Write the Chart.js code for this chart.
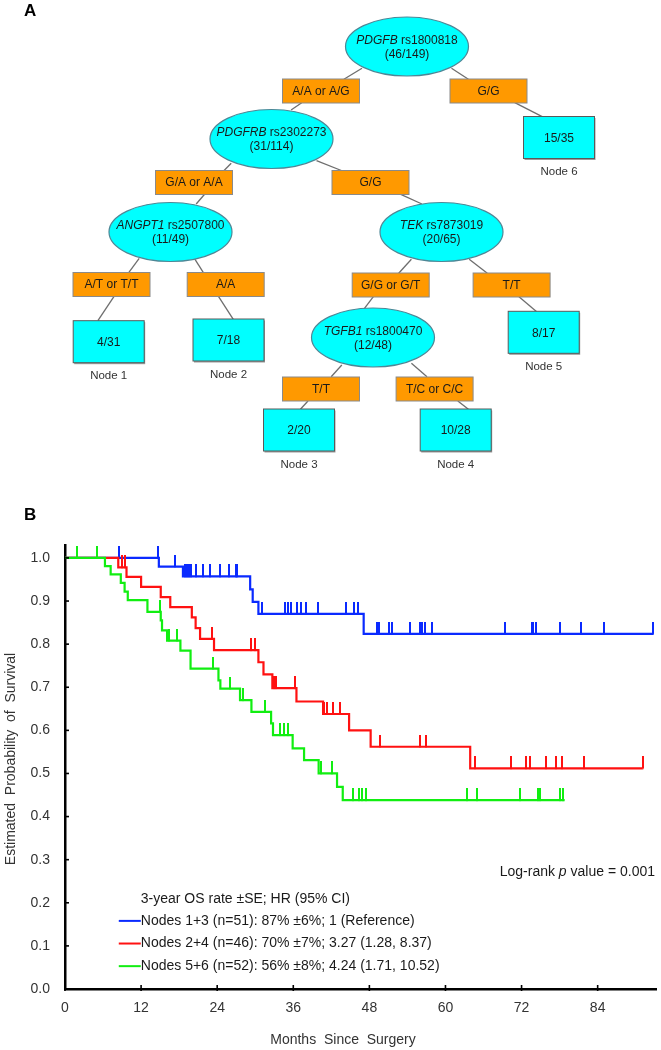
<!DOCTYPE html>
<html>
<head>
<meta charset="utf-8">
<script src="https://cdn.jsdelivr.net/npm/chart.js@4.4.1/dist/chart.umd.min.js"></script>
<style>
  body { margin: 0; background: #fff; }
  canvas { display: block; }
</style>
</head>
<body>
<canvas id="treeChart" width="661" height="495"></canvas>
<canvas id="kmChart" width="661" height="555"></canvas>
<script>
// ---------- panel A: survival tree ----------
const splitGenes = ['PDGFB', 'PDGFRB', 'ANGPT1', 'TEK', 'TGFB1'];
const splitSnps = ['rs1800818', 'rs2302273', 'rs2507800', 'rs7873019', 'rs1800470'];
const splitCounts = ['46/149', '31/114', '11/49', '20/65', '12/48'];
const branchLabels = ['A/A or A/G', 'G/G', 'G/A or A/A', 'G/G', 'A/T or T/T', 'A/A',
                      'G/G or G/T', 'T/T', 'T/T', 'T/C or C/C'];
const leafCounts = ['4/31', '7/18', '2/20', '10/28', '8/17', '15/35'];
const leafNames = ['Node 1', 'Node 2', 'Node 3', 'Node 4', 'Node 5', 'Node 6'];

// ---------- panel B: Kaplan-Meier curves ----------
const monthTicks = [0, 12, 24, 36, 48, 60, 72, 84];
const survTicks = [0, 0.1, 0.2, 0.3, 0.4, 0.5, 0.6, 0.7, 0.8, 0.9, 1.0];

const blueEventMonths = [14.8, 18.6, 29.2, 29.6, 30.5, 47.1];
const blueEventSurv = [0.980, 0.957, 0.927, 0.898, 0.870, 0.824];
const blueCensorMonths = [8.5, 14.6, 17.4, 19.0, 19.2, 19.5, 19.9, 20.6, 21.7, 22.9, 24.4, 25.8,
  26.9, 27.2, 31.0, 34.7, 35.1, 35.7, 36.6, 37.2, 38.0, 39.9, 44.3, 45.6, 46.2, 49.2, 49.5,
  51.1, 51.5, 54.4, 56.0, 56.3, 56.7, 57.9, 69.4, 73.6, 73.8, 74.2, 78.1, 81.4, 85.0, 92.8];
const blueLastMonth = 92.8;

const redEventMonths = [8.4, 9.7, 12.0, 15.1, 16.6, 20.0, 20.6, 21.3, 23.5, 30.5, 31.3, 32.7,
  36.5, 40.7, 44.8, 48.2, 63.9];
const redEventSurv = [0.978, 0.956, 0.933, 0.909, 0.886, 0.862, 0.837, 0.812, 0.786, 0.758,
  0.730, 0.698, 0.667, 0.638, 0.600, 0.562, 0.512];
const redCensorMonths = [9.0, 9.5, 23.2, 29.4, 30.0, 32.9, 33.3, 36.3, 40.9, 41.3, 42.2, 43.3,
  49.7, 56.0, 57.0, 64.7, 70.3, 72.7, 73.3, 75.8, 77.4, 78.3, 81.9, 91.1];
const redLastMonth = 91.1;

const greenEventMonths = [6.3, 7.2, 8.8, 9.4, 9.9, 13.0, 15.1, 15.3, 16.1, 18.2, 19.8, 24.2,
  24.5, 27.6, 29.4, 32.5, 32.8, 35.9, 37.7, 40.0, 42.9, 43.8];
const greenEventSurv = [0.981, 0.962, 0.942, 0.922, 0.902, 0.875, 0.855, 0.832, 0.808, 0.785,
  0.743, 0.716, 0.697, 0.670, 0.643, 0.616, 0.589, 0.558, 0.531, 0.500, 0.469, 0.438];
const greenCensorMonths = [1.85, 4.98, 15.0, 16.4, 17.7, 23.3, 26.0, 28.1, 31.5, 33.9, 34.5,
  35.2, 40.4, 42.1, 45.4, 46.4, 46.9, 47.4, 63.4, 64.9, 71.7, 74.6, 74.9, 78.0, 78.6];
const greenLastMonth = 78.8;

const legendTitle = '3-year OS rate \u00b1SE; HR (95% CI)';
const legendRows = [
  'Nodes 1+3 (n=51): 87% \u00b16%; 1 (Reference)',
  'Nodes 2+4 (n=46): 70% \u00b17%; 3.27 (1.28, 8.37)',
  'Nodes 5+6 (n=52): 56% \u00b18%; 4.24 (1.71, 10.52)'
];
const seriesColors = ['#0a2aff', '#ff1111', '#11ee11'];

const FONT = '"Liberation Sans", Arial, Helvetica, sans-serif';

// tree layout (pixel space of the top canvas)
const treeLayout = {
  splits: [[407, 46.5], [271.5, 139], [170.5, 232], [441.5, 232], [373, 337.5]],
  branches: [[321, 91], [488.5, 91], [194, 182.5], [370.5, 182.5], [111.5, 284.5], [225.7, 284.5],
             [390.7, 285], [511.6, 285], [321, 389], [434.6, 389]],
  leaves: [[108.7, 341.7], [228.5, 340], [299, 430], [455.7, 430], [543.7, 332.3], [559, 137.5]],
  links: [[362, 68.3, 343.9, 79.3], [451.5, 68.3, 468.4, 79.3], [301.7, 102.7, 291.1, 110],
          [514.8, 102.7, 542.2, 116.7], [231.2, 163.3, 223.6, 171], [316.5, 160.7, 342.6, 171],
          [204.6, 194.3, 196.2, 204], [400.8, 194.3, 421.9, 204], [139.2, 258.3, 128.7, 272.7],
          [195, 259.3, 203.4, 272.7], [113.9, 296.7, 97.9, 320.7], [218.6, 296.7, 233.3, 319.3],
          [411.4, 259.3, 398.7, 273.3], [469.2, 259.3, 487.3, 273.3], [373.4, 296.7, 363.7, 309.3],
          [519, 296.7, 536.7, 311.7], [341.8, 365, 331.2, 376.7], [411.4, 363.3, 427, 376.7],
          [308, 401, 300.4, 409.3], [457.8, 401, 468.4, 409.3]]
};

const treeDraw = {
  id: 'treeDraw',
  afterDatasetsDraw(chart) {
    const { ctx, scales: { x, y } } = chart;
    const px = v => x.getPixelForValue(v);
    const py = v => y.getPixelForValue(v);
    ctx.save();
    ctx.fillStyle = '#000';
    ctx.font = 'bold 17px ' + FONT;
    ctx.textAlign = 'left';
    ctx.textBaseline = 'alphabetic';
    ctx.fillText('A', 24, 16);

    ctx.strokeStyle = '#6e6e6e';
    ctx.lineWidth = 1.3;
    treeLayout.links.forEach(l => {
      ctx.beginPath();
      ctx.moveTo(px(l[0]), py(l[1]));
      ctx.lineTo(px(l[2]), py(l[3]));
      ctx.stroke();
    });

    ctx.textBaseline = 'middle';
    // split nodes
    treeLayout.splits.forEach((p, i) => {
      const cx = px(p[0]), cy = py(p[1]);
      ctx.beginPath();
      ctx.ellipse(cx, cy, 61.5, 29.5, 0, 0, Math.PI * 2);
      ctx.fillStyle = '#00ffff';
      ctx.fill();
      ctx.strokeStyle = '#4d8796';
      ctx.lineWidth = 1.2;
      ctx.stroke();
      ctx.fillStyle = '#1a1a1a';
      ctx.font = 'italic 12px ' + FONT;
      const gw = ctx.measureText(splitGenes[i]).width;
      ctx.font = '12px ' + FONT;
      const sw = ctx.measureText(' ' + splitSnps[i]).width;
      const x0 = cx - (gw + sw) / 2;
      ctx.textAlign = 'left';
      ctx.font = 'italic 12px ' + FONT;
      ctx.fillText(splitGenes[i], x0, cy - 6);
      ctx.font = '12px ' + FONT;
      ctx.fillText(' ' + splitSnps[i], x0 + gw, cy - 6);
      ctx.textAlign = 'center';
      ctx.fillText('(' + splitCounts[i] + ')', cx, cy + 8);
    });

    // branch condition boxes
    treeLayout.branches.forEach((p, i) => {
      const cx = px(p[0]), cy = py(p[1]);
      ctx.fillStyle = '#ff9900';
      ctx.fillRect(cx - 38.5, cy - 12, 77, 24);
      ctx.strokeStyle = '#8a8a8a';
      ctx.lineWidth = 1;
      ctx.strokeRect(cx - 38.5, cy - 12, 77, 24);
      ctx.fillStyle = '#1a1a1a';
      ctx.font = '12px ' + FONT;
      ctx.textAlign = 'center';
      ctx.fillText(branchLabels[i], cx, cy + 0.5);
    });

    // terminal nodes
    treeLayout.leaves.forEach((p, i) => {
      const cx = px(p[0]), cy = py(p[1]);
      ctx.fillStyle = '#9a9a9a';
      ctx.fillRect(cx - 34.5, cy - 19.5, 71, 42);
      ctx.fillStyle = '#00ffff';
      ctx.fillRect(cx - 35.5, cy - 21, 71, 42);
      ctx.strokeStyle = '#5a5a5a';
      ctx.lineWidth = 1;
      ctx.strokeRect(cx - 35.5, cy - 21, 71, 42);
      ctx.fillStyle = '#1a1a1a';
      ctx.font = '12px ' + FONT;
      ctx.textAlign = 'center';
      ctx.fillText(leafCounts[i], cx, cy + 1);
      ctx.fillStyle = '#333';
      ctx.font = '11.5px ' + FONT;
      ctx.fillText(leafNames[i], cx, cy + 34.5);
    });
    ctx.restore();
  }
};

new Chart(document.getElementById('treeChart'), {
  type: 'scatter',
  data: { datasets: [{ data: treeLayout.splits.map(p => ({ x: p[0], y: p[1] })), pointRadius: 0 }] },
  options: {
    responsive: false,
    animation: false,
    layout: { padding: 0 },
    plugins: { legend: { display: false }, tooltip: { enabled: false } },
    scales: {
      x: { type: 'linear', min: 0, max: 661, display: false },
      y: { type: 'linear', min: 0, max: 495, reverse: true, display: false }
    }
  },
  plugins: [treeDraw]
});

// ---------- KM helpers ----------
function stepPoints(evM, evS, last) {
  const pts = [{ x: 0, y: 1 }];
  evM.forEach((m, i) => pts.push({ x: m, y: evS[i] }));
  pts.push({ x: last, y: evS[evS.length - 1] });
  return pts;
}
function censorPoints(evM, evS, cens) {
  return cens.map(c => {
    let s = 1;
    evM.forEach((m, i) => { if (m <= c) s = evS[i]; });
    return { x: c, y: s };
  });
}
// upward censoring tick, drawn centred on the point
function tickMark(color) {
  const c = document.createElement('canvas');
  c.width = 2;
  c.height = 24;
  const g = c.getContext('2d');
  g.fillStyle = color;
  g.fillRect(0, 0, 2, 12.5);
  return c;
}
function kmLine(color, evM, evS, last, order) {
  return { type: 'line', data: stepPoints(evM, evS, last), borderColor: color, borderWidth: 2.2,
           stepped: true, pointRadius: 0, fill: false, order };
}
function kmCens(color, evM, evS, cens, order) {
  return { type: 'scatter', data: censorPoints(evM, evS, cens), pointStyle: tickMark(color),
           pointRadius: 4, order };
}

const kmDecor = {
  id: 'kmDecor',
  afterDraw(chart) {
    const { ctx, chartArea: a, scales: { x, y } } = chart;
    ctx.save();
    // inward tick marks
    ctx.strokeStyle = '#000';
    ctx.lineWidth = 1.6;
    survTicks.forEach(v => {
      const yy = y.getPixelForValue(v);
      ctx.beginPath(); ctx.moveTo(a.left, yy); ctx.lineTo(a.left + 4, yy); ctx.stroke();
    });
    monthTicks.forEach(v => {
      const xx = x.getPixelForValue(v);
      ctx.beginPath(); ctx.moveTo(xx, a.bottom + 2); ctx.lineTo(xx, a.bottom - 4); ctx.stroke();
    });

    ctx.fillStyle = '#000';
    ctx.font = 'bold 17px ' + FONT;
    ctx.textAlign = 'left';
    ctx.textBaseline = 'alphabetic';
    ctx.fillText('B', 24, 25);

    ctx.fillStyle = '#333';
    ctx.font = '14px ' + FONT;
    ctx.textBaseline = 'middle';
    ctx.textAlign = 'center';
    ctx.fillText('Months  Since  Surgery', 343, 545);
    ctx.save();
    ctx.translate(11, 264);
    ctx.rotate(-Math.PI / 2);
    ctx.fillText('Estimated  Probability  of  Survival', 0, 0);
    ctx.restore();

    // log-rank annotation
    ctx.fillStyle = '#1a1a1a';
    const parts = [['Log-rank ', false], ['p', true], [' value = 0.001', false]];
    let total = 0;
    parts.forEach(p => { ctx.font = (p[1] ? 'italic ' : '') + '14px ' + FONT; total += ctx.measureText(p[0]).width; });
    let lx = 655 - total;
    const ly = y.getPixelForValue(0.271);
    ctx.textAlign = 'left';
    parts.forEach(p => {
      ctx.font = (p[1] ? 'italic ' : '') + '14px ' + FONT;
      ctx.fillText(p[0], lx, ly);
      lx += ctx.measureText(p[0]).width;
    });

    // legend
    ctx.font = '14px ' + FONT;
    const tx = x.getPixelForValue(11.95);
    ctx.fillText(legendTitle, tx, y.getPixelForValue(0.209));
    legendRows.forEach((t, i) => {
      const ry = y.getPixelForValue(0.158 - i * 0.0525);
      ctx.strokeStyle = seriesColors[i];
      ctx.lineWidth = 2;
      ctx.beginPath(); ctx.moveTo(tx - 22, ry); ctx.lineTo(tx, ry); ctx.stroke();
      ctx.fillText(t, tx, ry);
    });
    ctx.restore();
  }
};

new Chart(document.getElementById('kmChart'), {
  type: 'scatter',
  data: {
    datasets: [
      kmLine(seriesColors[0], blueEventMonths, blueEventSurv, blueLastMonth, 6),
      kmCens(seriesColors[0], blueEventMonths, blueEventSurv, blueCensorMonths, 5),
      kmLine(seriesColors[1], redEventMonths, redEventSurv, redLastMonth, 4),
      kmCens(seriesColors[1], redEventMonths, redEventSurv, redCensorMonths, 3),
      kmLine(seriesColors[2], greenEventMonths, greenEventSurv, greenLastMonth, 2),
      kmCens(seriesColors[2], greenEventMonths, greenEventSurv, greenCensorMonths, 1)
    ]
  },
  options: {
    responsive: false,
    animation: false,
    layout: { padding: { top: 50, right: 1, left: 0, bottom: 0 } },
    plugins: { legend: { display: false }, tooltip: { enabled: false } },
    scales: {
      x: {
        type: 'linear', min: 0, max: 93.2,
        afterBuildTicks: s => { s.ticks = monthTicks.map(v => ({ value: v })); },
        afterFit: s => { s.height = 61; },
        grid: { drawOnChartArea: false, drawTicks: false },
        border: { color: '#000', width: 2.5 },
        ticks: { padding: 11, color: '#333', maxRotation: 0, font: { family: FONT, size: 14 } }
      },
      y: {
        type: 'linear', min: 0, max: 1.03,
        afterBuildTicks: s => { s.ticks = survTicks.map(v => ({ value: v })); },
        afterFit: s => { s.width = 65; },
        grid: { drawOnChartArea: false, drawTicks: false },
        border: { color: '#000', width: 2.5 },
        ticks: { padding: 15, color: '#333', font: { family: FONT, size: 14 },
                 callback: v => v.toFixed(1) }
      }
    }
  },
  plugins: [kmDecor]
});
</script>
</body>
</html>
